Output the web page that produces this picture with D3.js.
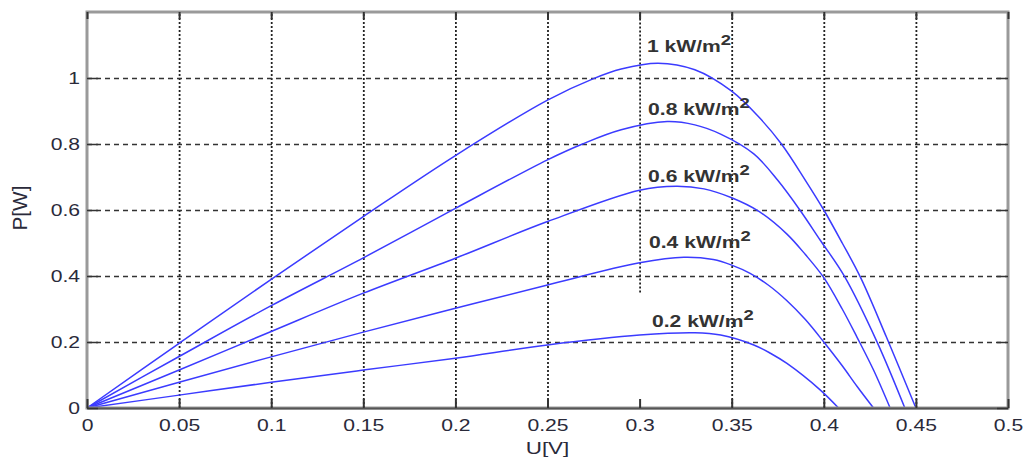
<!DOCTYPE html>
<html>
<head>
<meta charset="utf-8">
<script src="https://cdn.jsdelivr.net/npm/d3@7"></script>
<style>
  body { margin: 0; background: #fff; }
  svg { display: block; font-family: "Liberation Sans", Arial, sans-serif; }
</style>
</head>
<body>
<div id="chart"></div>
<script>
// tick values and labels
var uTicks = [0, 0.05, 0.1, 0.15, 0.2, 0.25, 0.3, 0.35, 0.4, 0.45, 0.5];
var uTickLabels = ["0", "0.05", "0.1", "0.15", "0.2", "0.25", "0.3", "0.35", "0.4", "0.45", "0.5"];
var pTicks = [0, 0.2, 0.4, 0.6, 0.8, 1];
var pTickLabels = ["0", "0.2", "0.4", "0.6", "0.8", "1"];

// P-U curves, one per irradiance
var seriesNames = ["1", "0.8", "0.6", "0.4", "0.2"];
var u1000 = [0, 0.05, 0.1, 0.15, 0.2, 0.25, 0.275, 0.29, 0.31, 0.33, 0.35, 0.365, 0.377, 0.39, 0.4, 0.41, 0.42, 0.434, 0.45];
var p1000 = [0, 0.196, 0.39, 0.58, 0.765, 0.933, 0.998, 1.027, 1.045, 1.025, 0.96, 0.88, 0.8, 0.69, 0.6, 0.5, 0.395, 0.215, 0];
var u800 = [0, 0.05, 0.1, 0.15, 0.2, 0.25, 0.269, 0.29, 0.315, 0.33, 0.344, 0.362, 0.375, 0.387, 0.398, 0.411, 0.429, 0.444];
var p800 = [0, 0.156, 0.31, 0.455, 0.605, 0.752, 0.8, 0.843, 0.868, 0.858, 0.83, 0.77, 0.69, 0.6, 0.509, 0.401, 0.199, 0];
var u600 = [0, 0.05, 0.1, 0.15, 0.2, 0.25, 0.3, 0.32, 0.335, 0.35, 0.365, 0.38, 0.39, 0.4, 0.41, 0.418, 0.427, 0.436];
var p600 = [0, 0.115, 0.232, 0.348, 0.454, 0.565, 0.66, 0.672, 0.664, 0.637, 0.595, 0.527, 0.465, 0.395, 0.3, 0.215, 0.115, 0];
var u400 = [0, 0.05, 0.1, 0.15, 0.2, 0.25, 0.3, 0.324, 0.34, 0.35, 0.36, 0.37, 0.38, 0.39, 0.4, 0.41, 0.418, 0.427];
var p400 = [0, 0.078, 0.155, 0.23, 0.302, 0.373, 0.44, 0.457, 0.45, 0.433, 0.408, 0.372, 0.325, 0.268, 0.2, 0.128, 0.066, 0];
var u200 = [0, 0.05, 0.1, 0.15, 0.2, 0.25, 0.3, 0.33, 0.344, 0.362, 0.371, 0.38, 0.398, 0.408];
var p200 = [0, 0.039, 0.078, 0.115, 0.151, 0.191, 0.221, 0.228, 0.221, 0.191, 0.166, 0.135, 0.055, 0];

// where each curve label sits, in data units (left edge, baseline)
var labelU = [0.304, 0.3046, 0.3046, 0.3051, 0.3067];
var labelP = [1.079, 0.888, 0.685, 0.485, 0.245];

var W = 1023, H = 457;
var plotL = 87, plotR = 1008, plotT = 12, plotB = 408;
var stretch = 1.32; // the picture's text is wide

var svg = d3.select("#chart").append("svg")
  .attr("width", W)
  .attr("height", H);

var x = d3.scaleLinear().domain([0, 0.5]).range([plotL, plotR]);
var y = d3.scaleLinear().domain([0, 1.2]).range([plotB, plotT]);

// vertical grid (dotted)
var vgrid = svg.append("g")
  .attr("transform", "translate(0," + plotB + ")")
  .call(d3.axisBottom(x).tickValues(uTicks.slice(1, -1)).tickSize(-(plotB - plotT)).tickFormat(""));
vgrid.select(".domain").remove();
vgrid.selectAll("line")
  .attr("stroke", "#222")
  .attr("stroke-width", 1.8)
  .attr("stroke-dasharray", "2,2");
// the 0.3 line stops short of the bottom in the original
vgrid.selectAll(".tick").filter(function(d) { return d === 0.3; }).select("line")
  .attr("y1", y(0.35) - plotB)
  .attr("y2", plotT - plotB);

// horizontal grid (dashed)
var hgrid = svg.append("g")
  .attr("transform", "translate(" + plotL + ",0)")
  .call(d3.axisLeft(y).tickValues(pTicks.slice(1)).tickSize(-(plotR - plotL)).tickFormat(""));
hgrid.select(".domain").remove();
hgrid.selectAll("line")
  .attr("stroke", "#333")
  .attr("stroke-width", 1.3)
  .attr("stroke-dasharray", "5,4");

// curves
var uList = [u1000, u800, u600, u400, u200];
var pList = [p1000, p800, p600, p400, p200];
var line = d3.line()
  .x(function(d) { return x(d[0]); })
  .y(function(d) { return y(d[1]); })
  .curve(d3.curveCatmullRom.alpha(0.5));

seriesNames.forEach(function(name, i) {
  var pts = uList[i].map(function(u, j) { return [u, pList[i][j]]; });
  svg.append("path")
    .datum(pts)
    .attr("fill", "none")
    .attr("stroke", "#3b3bff")
    .attr("stroke-width", 1.5)
    .attr("d", line);
});

// curve labels
seriesNames.forEach(function(name, i) {
  var t = svg.append("text")
    .attr("transform", "translate(" + x(labelU[i]) + "," + y(labelP[i]) + ") scale(" + stretch + ",1)")
    .attr("fill", "#333")
    .style("font-size", "16px")
    .style("font-weight", "bold");
  t.append("tspan").text(name + " kW/m");
  t.append("tspan").attr("dy", -7).style("font-size", "14px").text("2");
});

// frame
svg.append("rect")
  .attr("x", plotL).attr("y", plotT)
  .attr("width", plotR - plotL).attr("height", plotB - plotT)
  .attr("fill", "none")
  .attr("stroke", "#9a9a9a")
  .attr("stroke-width", 3);

// axes with inward ticks
var xAxis = svg.append("g")
  .attr("transform", "translate(0," + plotB + ")")
  .call(d3.axisBottom(x).tickValues(uTicks).tickSizeInner(-9).tickSizeOuter(0)
    .tickFormat(function(d, i) { return uTickLabels[i]; }));
xAxis.select(".domain").attr("stroke", "#555").attr("stroke-width", 2);
xAxis.selectAll("line").attr("stroke", "#333").attr("stroke-width", 2);
xAxis.selectAll("text")
  .attr("y", 23).attr("dy", 0)
  .attr("transform", "scale(" + stretch + ",1)")
  .attr("fill", "#2a2a3a")
  .style("font-size", "16px");

var xTop = svg.append("g")
  .attr("transform", "translate(0," + plotT + ")")
  .call(d3.axisTop(x).tickValues(uTicks).tickSizeInner(-7).tickSizeOuter(0).tickFormat(""));
xTop.select(".domain").remove();
xTop.selectAll("line").attr("stroke", "#333").attr("stroke-width", 2);

var yAxis = svg.append("g")
  .attr("transform", "translate(" + plotL + ",0)")
  .call(d3.axisLeft(y).tickValues(pTicks).tickSizeInner(-11).tickSizeOuter(0)
    .tickFormat(function(d, i) { return pTickLabels[i]; }));
yAxis.select(".domain").remove();
yAxis.selectAll("line").attr("stroke", "#333").attr("stroke-width", 1.5);
yAxis.selectAll("text")
  .attr("x", -7 / stretch).attr("dy", "0.35em")
  .attr("transform", "scale(" + stretch + ",1)")
  .attr("fill", "#2a2a3a")
  .style("font-size", "16px");

var yRight = svg.append("g")
  .attr("transform", "translate(" + plotR + ",0)")
  .call(d3.axisRight(y).tickValues(pTicks).tickSizeInner(-11).tickSizeOuter(0).tickFormat(""));
yRight.select(".domain").remove();
yRight.selectAll("line").attr("stroke", "#333").attr("stroke-width", 1.5);

// axis titles
svg.append("text")
  .attr("transform", "translate(" + ((plotL + plotR) / 2) + ",454) scale(" + stretch + ",1)")
  .attr("text-anchor", "middle")
  .attr("fill", "#2a2a3a")
  .style("font-size", "17px")
  .text("U[V]");

svg.append("text")
  .attr("transform", "translate(27,208) rotate(-90) scale(1.3," + stretch + ")")
  .attr("text-anchor", "middle")
  .attr("fill", "#2a2a3a")
  .style("font-size", "16px")
  .text("P[W]");
</script>
</body>
</html>
